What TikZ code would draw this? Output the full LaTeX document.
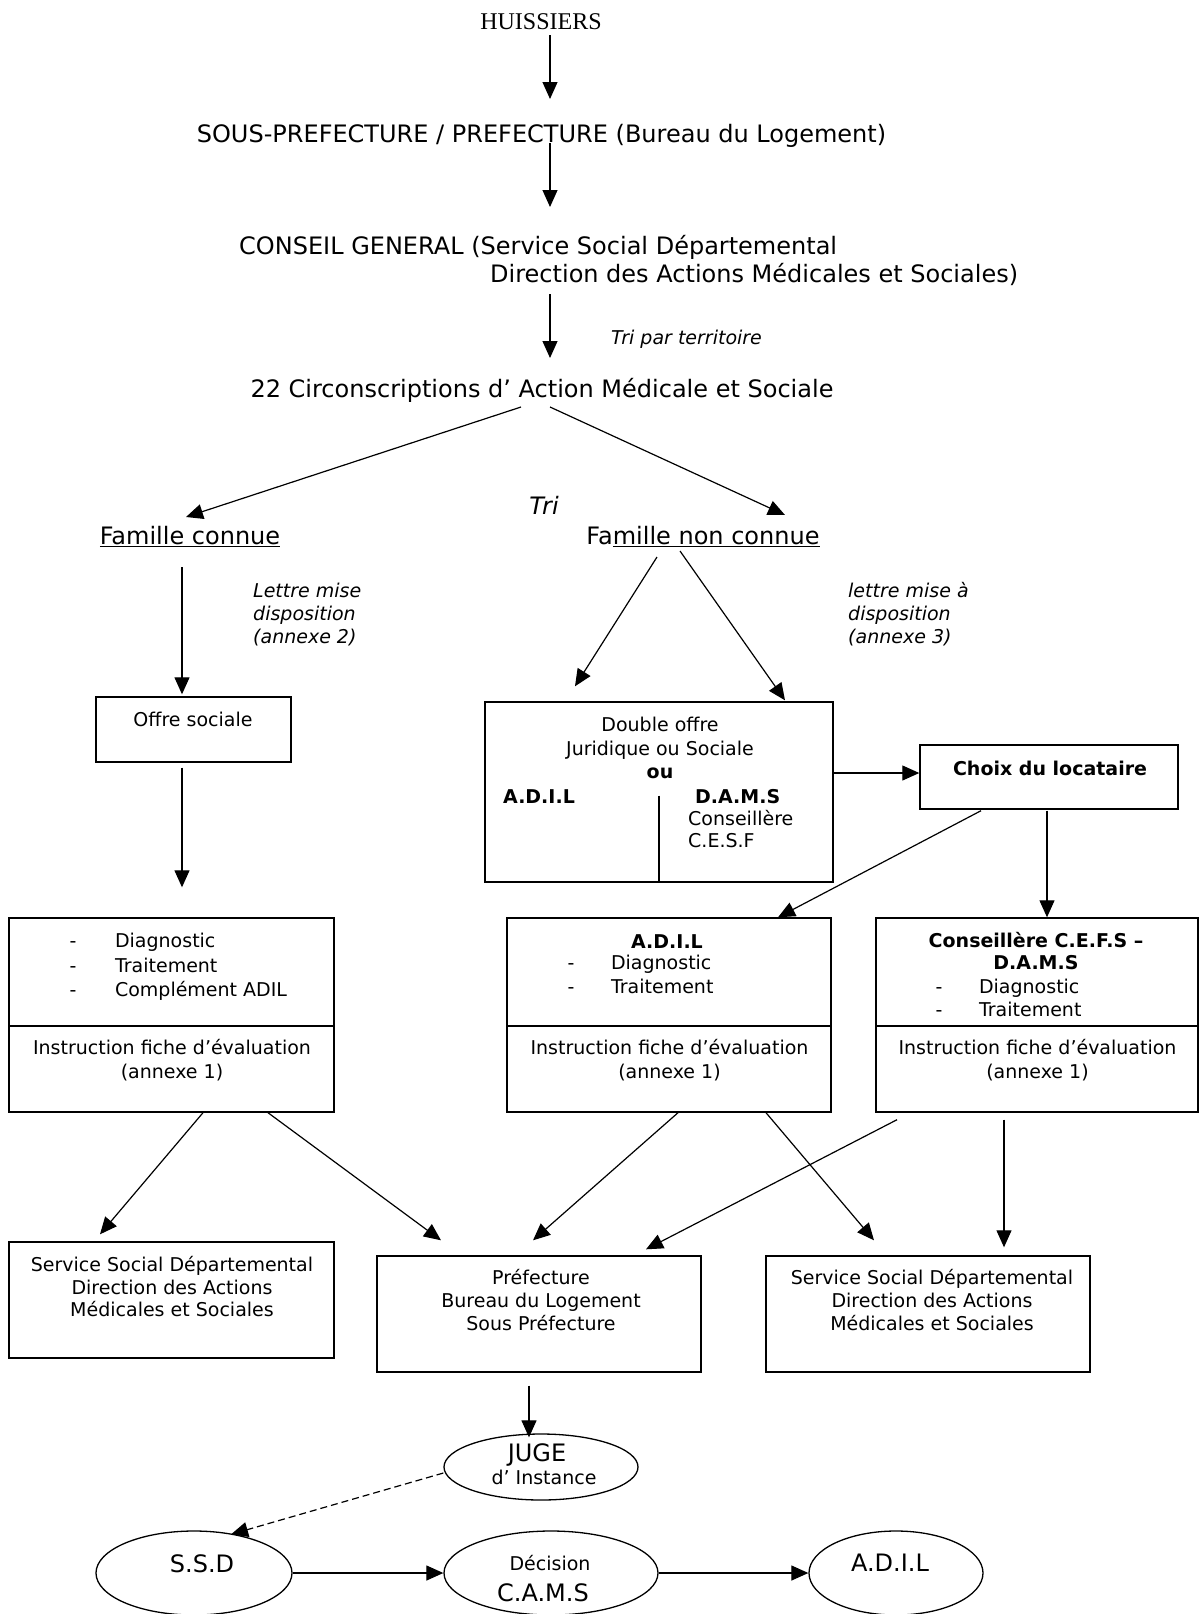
\documentclass[tikz,border=0pt]{standalone}
\usepackage{fontspec}
\setmainfont{DejaVu Sans}
\newfontfamily\huisfont{Liberation Serif}
\usetikzlibrary{positioning,calc,shapes.geometric,arrows.meta}
\newcommand{\corps}[2]{\fontsize{#1}{#2}\selectfont}
\newcommand{\grand}{\corps{24}{29}}
\newcommand{\moyen}{\corps{19}{23}}
\newcommand{\lignes}[2][c]{\begin{tabular}[t]{@{}#1@{}}#2\end{tabular}}
\newcommand{\tirets}[2]{\begin{tabular}[t]{@{}l@{\hspace{#1}}l@{}}#2\end{tabular}}
\tikzset{
    organigramme/.style={
        x=1pt, y=-1pt,
        % texte principal (services)
        service/.style={font=\grand, inner sep=0pt, anchor=base},
        % texte dans les cadres
        contenu/.style={font=\moyen, inner sep=0pt, anchor=base},
        % commentaires en italique
        remarque/.style={font=\moyen\itshape, inner sep=0pt, anchor=base west},
        % cadres rectangulaires
        cadre/.style={draw, rectangle, line width=1.4pt, inner sep=0pt},
        % ellipses (juge, commission)
        instance/.style={draw, ellipse, line width=1.3pt, inner sep=0pt},
        fleche/.style={line width=1.2pt, -{Triangle[length=17pt,width=15pt]}}
    }
}

\begin{document}
\begin{tikzpicture}[organigramme]
  \useasboundingbox (0,0) rectangle (1200,1614);

  % chaine du haut
  \node[service, font=\huisfont\grand] (huis) at (541,29) {HUISSIERS};
  \node[service] (sous) at (541.5,142) {SOUS-PREFECTURE / PREFECTURE (Bureau du Logement)};
  \node[service, anchor=base west] (conseil) at (239,254) {CONSEIL GENERAL (Service Social Départemental};
  \node[service, anchor=base west] (conseildir) at (490,282) {Direction des Actions Médicales et Sociales)};
  \node[remarque] (territ) at (611,344.5) {Tri par territoire};
  \node[service] (circ) at (542,397) {22 Circonscriptions d’ Action Médicale et Sociale};
  \node[service, font=\grand\itshape] (tri) at (544,514.5) {Tri};
  \node[service] (fc) at (190,544) {\underline{Famille connue}};
  \node[service] (fnc) at (703,544) {Fa\underline{mille non connue}};
  \node[remarque, font={\corps{19}{23}\itshape}] (lettreA) at (253,597.5) {\lignes[l]{Lettre mise\\disposition\\(annexe 2)}};
  \node[remarque, font={\corps{19}{23}\itshape}] (lettreB) at (848,597.5) {\lignes[l]{lettre mise à\\disposition\\(annexe 3)}};

  % cadres
  \node[cadre, minimum width=195pt, minimum height=65pt] (offre) at (193.5,729.5) {};
  \node[cadre, minimum width=348pt, minimum height=180pt] (double) at (659,792) {};
  \node[cadre, minimum width=258pt, minimum height=64pt] (choix) at (1049,777) {};
  \node[cadre, minimum width=325pt, minimum height=194pt] (diagL) at (171.5,1015) {};
  \node[cadre, minimum width=324pt, minimum height=194pt] (diagM) at (669,1015) {};
  \node[cadre, minimum width=322pt, minimum height=194pt] (diagR) at (1037,1015) {};
  \node[cadre, minimum width=325pt, minimum height=116pt] (ssdL) at (171.5,1300) {};
  \node[cadre, minimum width=324pt, minimum height=116pt] (pref) at (539,1314) {};
  \node[cadre, minimum width=324pt, minimum height=116pt] (ssdR) at (928,1314) {};
  \draw[line width=1.2pt] ($(double.south)+(0,-87)$) -- (double.south);
  \foreach \b in {diagL,diagM,diagR}{
    \draw[line width=1.4pt] ($(\b.west)+(0,11)$) -- ($(\b.east)+(0,11)$);
    \node[contenu, font={\corps{19}{24}}] (\b-instr) at ($(\b.center)+(0.5,39.5)$)
      {\lignes{Instruction fiche d’évaluation\\(annexe 1)}};
  }

  % textes des cadres
  \node[contenu] (offretxt) at (193,726.5) {Offre sociale};
  \node[contenu, font={\corps{19}{23.5}}] (doubletxt) at (660,731.5) {\lignes{Double offre\\Juridique ou Sociale\\\textbf{ou}}};
  \node[contenu, anchor=base west, font=\moyen\bfseries] (dbladil) at (503,803) {A.D.I.L};
  \node[contenu, anchor=base west, font={\corps{19}{22}}] (dbldams) at (688,803) {\lignes[l]{\hspace*{7pt}\textbf{D.A.M.S}\\Conseillère\\C.E.S.F}};
  \node[contenu, font=\moyen\bfseries] (choixtxt) at (1050,775) {Choix du locataire};
  \node[contenu, anchor=base west, font={\corps{19}{24.5}}] (listeL) at (69.5,947.5) {\tirets{38.5pt}{-&Diagnostic\\-&Traitement\\-&Complément ADIL}};
  \node[contenu, font=\moyen\bfseries] (adiltitre) at (667,948) {A.D.I.L};
  \node[contenu, anchor=base west, font={\corps{19}{24}}] (listeM) at (567.5,969.5) {\tirets{36.5pt}{-&Diagnostic\\-&Traitement}};
  \node[contenu, font={\corps{19}{22}\bfseries}] (cesftitre) at (1036,947.5) {\lignes{Conseillère C.E.F.S –\\D.A.M.S}};
  \node[contenu, anchor=base west, font={\corps{19}{23}}] (listeR) at (935.5,993.5) {\tirets{36.5pt}{-&Diagnostic\\-&Traitement}};
  \node[contenu, font={\corps{19}{22.5}}] (ssdLtxt) at (172,1271.5) {\lignes{Service Social Départemental\\Direction des Actions\\Médicales et Sociales}};
  \node[contenu] (preftxt) at (541,1284.5) {\lignes{Préfecture\\Bureau du Logement\\Sous Préfecture}};
  \node[contenu] (ssdRtxt) at (932,1284.5) {\lignes{Service Social Départemental\\Direction des Actions\\Médicales et Sociales}};

  % ellipses du bas
  \node[instance, minimum width=194pt, minimum height=66pt] (juge) at (541,1467) {};
  \node[instance, minimum width=196pt, minimum height=84pt] (ssd) at (194,1573) {};
  \node[instance, minimum width=214pt, minimum height=84pt] (cams) at (551,1573) {};
  \node[instance, minimum width=174pt, minimum height=84pt] (adil) at (896,1573) {};
  \node[service] (jugetxt) at (537,1461) {JUGE};
  \node[contenu] (instancetxt) at (544,1484) {d’ Instance};
  \node[service] (ssdtxt) at (202,1572) {S.S.D};
  \node[contenu] (decisiontxt) at (550,1570) {Décision};
  \node[service] (camstxt) at (543,1601) {C.A.M.S};
  \node[service] (adiltxt) at (890,1571) {A.D.I.L};

  % fleches
  \draw[fleche] ($(huis.base)+(9,6)$) -- ($(sous.base)+(8.5,-43)$);
  \draw[fleche] ($(sous.base)+(8.5,1)$) -- ($(conseil.base west)+(311,-47)$);
  \draw[fleche] ($(conseildir.base west)+(60,12)$) -- ($(circ.base)+(8,-39)$);
  \draw[fleche] ($(circ.base)+(-21,10)$) -- ($(fc.base)+(-4,-27)$);
  \draw[fleche] ($(circ.base)+(8,10)$) -- ($(fnc.base)+(82,-29)$);
  \draw[fleche] ($(fc.base)+(-8,23)$) -- ($(offre.north)+(-11.5,-2)$);
  \draw[fleche] ($(fnc.base)+(-46,13)$) -- ($(double.north)+(-84,-15)$);
  \draw[fleche] ($(fnc.base)+(-23,7)$) -- ($(double.north)+(126,-1)$);
  \draw[fleche] ($(offre.south)+(-11.5,5)$) -- ($(diagL.north)+(10.5,-30)$);
  \draw[fleche] ($(double.east)+(0,-19)$) -- ($(choix.west)+(0,-4)$);
  \draw[fleche] ($(choix.south)+(-68,1)$) -- ($(diagM.north)+(109,0)$);
  \draw[fleche] ($(choix.south)+(-2,1)$) -- ($(diagR.north)+(10,0)$);
  \draw[fleche] ($(diagL.south)+(31.5,0)$) -- ($(ssdL.north)+(-71.5,-7)$);
  \draw[fleche] ($(diagL.south)+(96.5,0)$) -- ($(pref.north)+(-98,-15)$);
  \draw[fleche] ($(diagM.south)+(9,0)$) -- ($(pref.north)+(-6,-15)$);
  \draw[fleche] ($(diagM.south)+(97,0)$) -- ($(ssdR.north)+(-54,-15)$);
  \draw[fleche] ($(diagR.south)+(-140,7)$) -- ($(pref.north)+(107,-6)$);
  \draw[fleche] ($(diagR.south)+(-33,7)$) -- ($(ssdR.north)+(76,-8)$);
  \draw[fleche] ($(pref.south)+(-10,13)$) -- ($(juge.north)+(-12,4)$);
  \draw[fleche, dash pattern=on 7pt off 4pt] ($(juge.west)+(0,6)$) -- ($(ssd.north)+(37,4)$);
  \draw[fleche] (ssd.east) -- (cams.west);
  \draw[fleche] (cams.east) -- (adil.west);
\end{tikzpicture}
\end{document}
